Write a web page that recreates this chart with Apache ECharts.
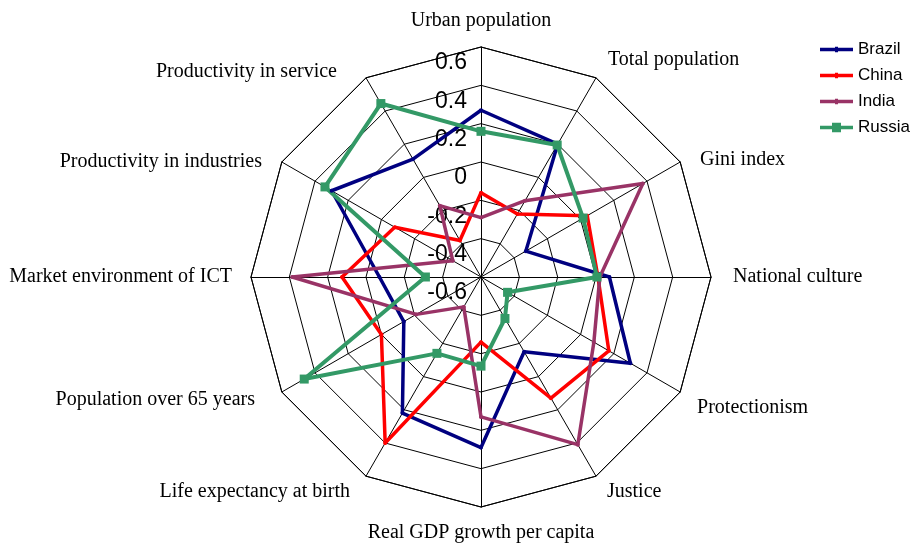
<!DOCTYPE html>
<html>
<head>
<meta charset="utf-8">
<script src="https://cdn.jsdelivr.net/npm/echarts@6/dist/echarts.min.js"></script>
<style>
html,body{margin:0;padding:0;background:#fff;}
#main{width:918px;height:544px;}
</style>
</head>
<body>
<div id="main"></div>
<script>
// Indicators listed clockwise starting at the top
const categories = ['Urban population','Total population','Gini index','National culture','Protectionism','Justice','Real GDP growth per capita','Life expectancy at birth','Population over 65 years','Market environment of ICT','Productivity in industries','Productivity in service'];
const seriesNames = ['Brazil','China','India','Russia'];
const brazil = [0.27, 0.20, -0.33, 0.07, 0.30, -0.15, 0.29, 0.22, -0.135, -0.07, 0.30, 0.11];
const china  = [-0.16, -0.22, 0.04, 0.01, 0.17, 0.13, -0.26, 0.40, 0.00, 0.125, -0.08, -0.38];
const india  = [-0.29, -0.14, 0.375, 0.02, 0.08, 0.41, 0.13, -0.42, -0.21, 0.385, -0.43, -0.17];
const russia = [0.16, 0.195, 0.015, 0.005, -0.44, -0.35, -0.135, -0.14, 0.465, -0.31, 0.34, 0.445];
const axisMin = -0.6, axisMax = 0.6;

// layout / style (not data)
const colors = ['#000080','#FF0000','#993366','#339966'];
// label paddings [top,right,bottom,left] per indicator (clockwise order), to mimic original placement
const namePads = [
  [0,0,0,0],[0,0,8,4],[12,0,0,6],[0,0,0,6],[16,0,0,3],[4,0,0,3],
  [0,0,0,0],[4,8,0,0],[0,13,0,0],[0,3,0,0],[16,6,0,0],[16,21,0,0]
];
const legendIcons = [
  'path://M0,1H15V0H18V1H33V4.5H18V5.5H15V4.5H0Z',
  'path://M0,1H15V0H18V1H33V4.5H18V5.5H15V4.5H0Z',
  'path://M0,1H15V0H18V1H33V4.5H18V5.5H15V4.5H0Z',
  'path://M0,3H12V0H21V3H33V6.5H21V9.5H12V6.5H0Z'
];

// ECharts draws radar indicators counter-clockwise; reorder so they appear clockwise
function cw(arr){ return [arr[0]].concat(arr.slice(1).reverse()); }

const indicators = cw(categories).map(function(name, i){
  const ind = {name: name, min: axisMin, max: axisMax};
  if (i === 0) ind.axisLabel = {show: true};
  return ind;
});
const rich = {};
namePads.forEach(function(p, i){
  rich['n' + i] = {padding: p, fontFamily: 'Liberation Serif', fontSize: 20, color: '#000'};
});

const chart = echarts.init(document.getElementById('main'), null, {renderer:'canvas'});
const allData = [brazil, china, india, russia];
const symbols = ['circle','circle','circle','rect'];
const symbolSizes = [4,4,4,9];

chart.setOption({
  animation: false,
  backgroundColor: '#fff',
  legend: {
    orient: 'vertical',
    left: 815, top: 36,
    itemWidth: 33, itemHeight: 10, itemGap: 9,
    symbolKeepAspect: true,
    textStyle: {fontFamily: 'Liberation Sans', fontSize: 17, color: '#000'},
    data: seriesNames.map(function(n, i){ return {name: n, icon: legendIcons[i]}; })
  },
  radar: {
    center: [481, 277],
    radius: 230,
    shape: 'polygon',
    splitNumber: 6,
    startAngle: 90,
    indicator: indicators,
    axisName: {
      color: '#000', fontFamily: 'Liberation Serif', fontSize: 20,
      formatter: function(name){ return '{n' + categories.indexOf(name) + '|' + name + '}'; },
      rich: rich
    },
    nameGap: 16,
    splitLine: {lineStyle: {color: '#000', width: 1}},
    splitArea: {show: false},
    axisLine: {lineStyle: {color: '#000', width: 1}},
    axisLabel: {
      show: false, color: '#000', fontFamily: 'Liberation Sans', fontSize: 23, margin: 14,
      formatter: function(v){ const r = Math.round(v * 10) / 10; return '{t|' + String(r === 0 ? 0 : r) + '}'; },
      rich: {t: {padding: [32,0,0,0], fontFamily: 'Liberation Sans', fontSize: 23, color: '#000'}}
    }
  },
  series: [{
    type: 'radar',
    data: allData.map(function(d, i){
      return {
        name: seriesNames[i],
        value: cw(d),
        symbol: symbols[i],
        symbolSize: symbolSizes[i],
        lineStyle: {color: colors[i], width: i===3 ? 4 : 3.5},
        itemStyle: {color: colors[i]}
      };
    })
  }]
});
</script>
</body>
</html>
